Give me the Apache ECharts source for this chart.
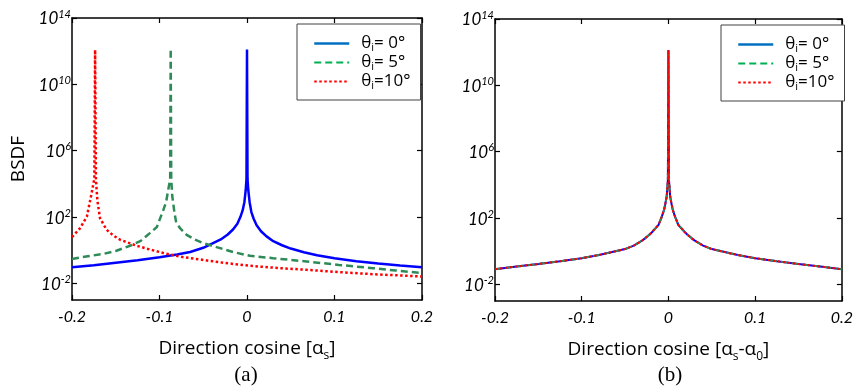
<!DOCTYPE html>
<html>
<head>
<meta charset="utf-8">
<script src="https://cdn.jsdelivr.net/npm/echarts@6.0.0/dist/echarts.min.js"></script>
<style>
  html, body { margin: 0; padding: 0; background: #fff; }
  #chart { width: 856px; height: 392px; }
</style>
</head>
<body>
<div id="chart"></div>
<script>
// tick values
const xTicks = [-0.2, -0.1, 0, 0.1, 0.2]
const yTickExps = [-2, 2, 6, 10, 14]
const incidence = [0, 5, 10]

// (a) BSDF vs direction cosine, theta_i = 0
const aBlueX = [-0.2, -0.175, -0.15, -0.125, -0.1, -0.08, -0.065, -0.05, -0.04, -0.03, -0.022, -0.016, -0.011, -0.0076, -0.005, -0.003, -0.0015, -0.0006, 0,
  0.0006, 0.0015, 0.003, 0.005, 0.0076, 0.011, 0.016, 0.022, 0.03, 0.04, 0.05, 0.065, 0.08, 0.1, 0.125, 0.15, 0.175, 0.2]
const aBlueY = [0.095, 0.126, 0.178, 0.25, 0.38, 0.56, 0.79, 1.4, 2.5, 4.5, 8.9, 17.8, 40, 100, 250, 790, 4000, 20000, 1.26e12,
  20000, 4000, 790, 200, 79, 32, 14, 7.1, 3.5, 2.0, 1.26, 0.76, 0.5, 0.33, 0.22, 0.16, 0.12, 0.095]

// (a) theta_i = 5
const aGreenX = [-0.2, -0.18, -0.164, -0.15, -0.1337, -0.122, -0.111, -0.103, -0.0956, -0.0925, -0.09, -0.0878, -0.0872,
  -0.0866, -0.0855, -0.083, -0.0809, -0.076, -0.069, -0.06, -0.05, -0.031, -0.015, 0.0034, 0.03, 0.068, 0.105, 0.144, 0.17, 0.2]
const aGreenY = [0.30, 0.45, 0.6, 0.9, 1.86, 3.5, 10.7, 25, 270, 790, 4400, 20000, 1.4e12,
  20000, 2000, 200, 45, 20, 8.5, 4.5, 2.7, 1.35, 0.76, 0.46, 0.33, 0.21, 0.13, 0.083, 0.06, 0.042]

// (a) theta_i = 10
const aRedX = [-0.2, -0.1909, -0.183, -0.1775, -0.1745, -0.1736, -0.1727, -0.171, -0.168, -0.1604, -0.153, -0.145, -0.126,
  -0.11, -0.0956, -0.075, -0.05, -0.025, 0.0034, 0.035, 0.068, 0.105, 0.144, 0.2]
const aRedY = [6.2, 21, 107, 2900, 20000, 1.2e12, 20000, 1000, 85, 17, 7.9, 4.3, 1.86,
  1.07, 0.68, 0.4, 0.26, 0.17, 0.115, 0.085, 0.066, 0.048, 0.036, 0.026]

// (b) shifted direction cosine, all three incidences overlap
const bX = [-0.2, -0.175, -0.15, -0.125, -0.1, -0.08, -0.065, -0.05, -0.04, -0.03, -0.0266, -0.022, -0.019, -0.0114, -0.0076, -0.005, -0.0038, -0.002, -0.0006, 0,
  0.0006, 0.002, 0.0038, 0.005, 0.0076, 0.0114, 0.019, 0.022, 0.0266, 0.03, 0.04, 0.05, 0.065, 0.08, 0.1, 0.125, 0.15, 0.175, 0.2]
const bY = [0.083, 0.12, 0.17, 0.25, 0.38, 0.6, 0.89, 1.35, 2.2, 4.5, 6.2, 10, 14, 39, 123, 316, 630, 2000, 20000, 1.35e12,
  20000, 2000, 630, 316, 123, 39, 14, 10, 6.2, 4.5, 2.2, 1.35, 0.89, 0.6, 0.38, 0.25, 0.17, 0.12, 0.083]

const toLog = (xs, ys) => xs.map((x, i) => [x, Math.log10(ys[i])])

const plotColors = ['#0000ff', '#2e8b57', '#ff0000']
const legendColors = ['#0070c0', '#00b050', '#ff0000']
const lineTypes = ['solid', [7, 4], [2.5, 2.5]]

const labelFont = 'Lato'
const textFont = 'Open Sans'

const chart = echarts.init(document.getElementById('chart'), null, { renderer: 'canvas' })

const grids = [
  { left: 72, top: 18, width: 350, height: 282 },
  { left: 495, top: 19, width: 350, height: 282 },
]

const xNames = [
  '{n|Direction cosine [α}{s|s}{n|]}',
  '{n|Direction cosine [α}{s|s}{n|-α}{s|0}{n|]}',
]

const nameRich = {
  n: { fontFamily: textFont, fontSize: 19, color: '#000', lineHeight: 26 },
  s: { fontFamily: textFont, fontSize: 12, color: '#000', lineHeight: 13, verticalAlign: 'bottom' },
}

const axisLine = { show: true, onZero: false, lineStyle: { color: '#000', width: 1.5 } }
const tick = { inside: true, length: 5, lineStyle: { color: '#000', width: 1.2 } }

const xAxes = []
const yAxes = []
grids.forEach((g, gi) => {
  xAxes.push({
    type: 'value', gridIndex: gi, position: 'bottom', min: -0.2, max: 0.2, interval: 0.1,
    axisLine, splitLine: { show: false }, axisTick: tick,
    axisLabel: { fontFamily: labelFont, fontStyle: 'italic', fontSize: 16, color: '#000', margin: 9 },
    name: xNames[gi], nameLocation: 'middle', nameGap: 36,
    nameTextStyle: { rich: nameRich },
  })
  xAxes.push({
    type: 'value', gridIndex: gi, position: 'top', min: -0.2, max: 0.2, interval: 0.1,
    axisLine, splitLine: { show: false }, axisTick: tick,
    axisLabel: { show: false },
  })
  yAxes.push({
    type: 'value', gridIndex: gi, position: 'left', min: -3, max: 14,
    axisLine, splitLine: { show: false },
    axisTick: { ...tick, customValues: yTickExps },
    axisLabel: {
      customValues: yTickExps, margin: 1,
      formatter: (v) => '{b|10}{e|' + v + '}',
      rich: {
        b: { fontFamily: labelFont, fontStyle: 'italic', fontSize: 17, color: '#000', lineHeight: 19, verticalAlign: 'bottom' },
        e: { fontFamily: labelFont, fontStyle: 'italic', fontSize: 11, color: '#000', lineHeight: 11, verticalAlign: 'top' },
      },
      lineHeight: 24,
    },
    name: gi === 0 ? 'BSDF' : '', nameLocation: 'middle', nameGap: 44,
    nameTextStyle: { fontFamily: textFont, fontSize: 19, color: '#000' },
  })
  yAxes.push({
    type: 'value', gridIndex: gi, position: 'right', min: -3, max: 14,
    axisLine, splitLine: { show: false },
    axisTick: { ...tick, customValues: yTickExps },
    axisLabel: { show: false },
  })
})

const aData = [toLog(aBlueX, aBlueY), toLog(aGreenX, aGreenY), toLog(aRedX, aRedY)]
const bData = toLog(bX, bY)

const series = []
incidence.forEach((inc, k) => {
  series.push({
    name: 'a' + inc, type: 'line', xAxisIndex: 0, yAxisIndex: 0,
    data: aData[k], symbol: 'none', animation: false,
    lineStyle: { color: plotColors[k], width: 2.5, type: lineTypes[k] },
    itemStyle: { color: plotColors[k] },
  })
})
incidence.forEach((inc, k) => {
  series.push({
    name: 'b' + inc, type: 'line', xAxisIndex: 2, yAxisIndex: 2,
    data: bData, symbol: 'none', animation: false,
    lineStyle: { color: plotColors[k], width: 2, type: lineTypes[k] },
    itemStyle: { color: plotColors[k] },
  })
})

const legendText = (name) => {
  const inc = name.slice(1)
  return '{t0|θ}{i|i}{t|=' + (inc.length < 2 ? ' ' : '') + inc + '°}'
}

const legendBase = (prefix, left, top) => ({
  orient: 'vertical', left, top,
  data: incidence.map((inc, k) => ({
    name: prefix + inc,
    // hide the default circle marker, keep only the line sample
    itemStyle: { color: 'rgba(0,0,0,0)', borderWidth: 0, opacity: 0 },
    lineStyle: { color: legendColors[k], width: k === 0 ? 2.5 : 2, type: lineTypes[k] },
  })),
  backgroundColor: '#fff', borderColor: '#404040', borderWidth: 1, borderRadius: 0,
  padding: [11, 10, 9, 16],
  itemWidth: 35, itemHeight: 12, itemGap: 1,
  selectedMode: false,
  formatter: legendText,
  textStyle: {
    rich: {
      t0: { fontFamily: textFont, fontSize: 17, color: '#000', lineHeight: 19, padding: [0, 0, 0, 7] },
      t: { fontFamily: textFont, fontSize: 17, color: '#000', lineHeight: 19 },
      i: { fontFamily: textFont, fontSize: 11, color: '#000', lineHeight: 10, verticalAlign: 'bottom' },
    },
  },
})

chart.setOption({
  animation: false,
  backgroundColor: '#fff',
  grid: grids,
  xAxis: xAxes,
  yAxis: yAxes,
  legend: [legendBase('a', 297, 24), legendBase('b', 721, 25)],
  title: [
    { text: '(a)', left: 246, top: 365, textAlign: 'center', padding: 0,
      textStyle: { fontFamily: 'Liberation Serif', fontSize: 21, fontWeight: 'normal', color: '#000' } },
    { text: '(b)', left: 670, top: 365, textAlign: 'center', padding: 0,
      textStyle: { fontFamily: 'Liberation Serif', fontSize: 21, fontWeight: 'normal', color: '#000' } },
  ],
  series,
})
</script>
</body>
</html>
